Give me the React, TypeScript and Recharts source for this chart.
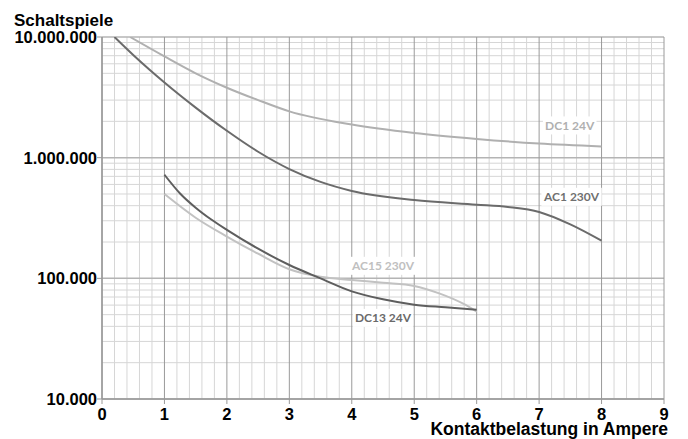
import { LineChart, Line, XAxis, YAxis, ReferenceDot, ReferenceLine, Label } from "recharts";

// Schaltspiele vs. Kontaktbelastung (A), log y axis
const xTicks = [0, 1, 2, 3, 4, 5, 6, 7, 8, 9];
const yTicks = [10000, 100000, 1000000, 10000000];
const xMinor = [
  0.2, 0.4, 0.6, 0.8, 1.2, 1.4, 1.6, 1.8, 2.2, 2.4, 2.6, 2.8, 3.2, 3.4, 3.6, 3.8,
  4.2, 4.4, 4.6, 4.8, 5.2, 5.4, 5.6, 5.8, 6.2, 6.4, 6.6, 6.8, 7.2, 7.4, 7.6, 7.8,
  8.2, 8.4, 8.6, 8.8,
];
const yMinor = [
  20000, 30000, 40000, 50000, 60000, 70000, 80000, 90000,
  200000, 300000, 400000, 500000, 600000, 700000, 800000, 900000,
  2000000, 3000000, 4000000, 5000000, 6000000, 7000000, 8000000, 9000000,
];

const dc1 = [
  { x: 0.45, y: 10000000 }, { x: 1, y: 6900000 }, { x: 1.5, y: 5000000 }, { x: 2, y: 3800000 },
  { x: 2.5, y: 3000000 }, { x: 3, y: 2420000 }, { x: 4, y: 1880000 }, { x: 5, y: 1600000 },
  { x: 6, y: 1430000 }, { x: 7, y: 1310000 }, { x: 8, y: 1240000 },
];
const ac1 = [
  { x: 0.2, y: 10000000 }, { x: 0.5, y: 7100000 }, { x: 1, y: 4200000 }, { x: 1.5, y: 2600000 },
  { x: 2, y: 1670000 }, { x: 2.5, y: 1120000 }, { x: 3, y: 805000 }, { x: 3.5, y: 630000 },
  { x: 4, y: 530000 }, { x: 5, y: 445000 }, { x: 6, y: 408000 }, { x: 6.5, y: 390000 },
  { x: 7, y: 355000 }, { x: 7.5, y: 280000 }, { x: 8, y: 205000 },
];
const dc13 = [
  { x: 1, y: 722000 }, { x: 1.25, y: 505000 }, { x: 1.5, y: 385000 }, { x: 1.75, y: 307000 },
  { x: 2, y: 252000 }, { x: 2.5, y: 176000 }, { x: 3, y: 129000 }, { x: 3.5, y: 100000 },
  { x: 4, y: 78000 }, { x: 4.5, y: 67000 }, { x: 5, y: 60500 }, { x: 5.5, y: 57500 },
  { x: 6, y: 54800 },
];
const ac15 = [
  { x: 1, y: 500000 }, { x: 1.5, y: 318000 }, { x: 2, y: 222000 }, { x: 2.5, y: 160000 },
  { x: 3, y: 119000 }, { x: 3.5, y: 103000 }, { x: 4, y: 97000 }, { x: 4.5, y: 92000 },
  { x: 5, y: 86500 }, { x: 5.4, y: 75000 }, { x: 5.8, y: 61000 }, { x: 6, y: 53000 },
];

const curveLabels = [
  { text: "DC1 24V", x: 7.49, y: 1850000, color: "#b0b0b0" },
  { text: "AC1 230V", x: 7.52, y: 474000, color: "#707070" },
  { text: "AC15 230V", x: 4.5, y: 127000, color: "#c0c0c0" },
  { text: "DC13 24V", x: 4.5, y: 47000, color: "#6a6a6a" },
];

const fmtDe = (v: number) => String(v).replace(/\B(?=(\d{3})+(?!\d))/g, ".");
const tickFont = { fill: "#000", fontSize: 16.5, fontWeight: 700, fontFamily: "'Liberation Sans', Arial, sans-serif" };

const tagShape = (text: string, color: string) => (p: any) => {
  const w = text.length * 6.8 + 6;
  return (
    <g>
      <rect x={p.cx - w / 2} y={p.cy - 9} width={w} height={18} fill="#fff" />
      <text x={p.cx} y={p.cy} textAnchor="middle" dominantBaseline="central"
        style={{ fontFamily: "Lato, 'Open Sans', sans-serif", fontWeight: 700, fontSize: 12, fill: color }}>
        {text}
      </text>
    </g>
  );
};

export default function App() {
  return (
    <div style={{ width: 688, height: 439, background: "#fff" }}>
      <style>{"body{margin:0}"}</style>
      <LineChart width={688} height={439} margin={{ top: 37, right: 24, bottom: 0, left: 0 }}>
        {yMinor.map(v => (
          <ReferenceLine key={"hm" + v} y={v} stroke="#d6d6d6" strokeWidth={1} />
        ))}
        {xMinor.map(v => (
          <ReferenceLine key={"vm" + v} x={v} stroke="#d6d6d6" strokeWidth={1} />
        ))}
        {yTicks.map(v => (
          <ReferenceLine key={"h" + v} y={v} stroke="#b4b4b4" strokeWidth={1.5} ifOverflow="visible" />
        ))}
        {xTicks.map(v => (
          <ReferenceLine key={"v" + v} x={v} stroke="#9a9a9a" strokeWidth={1} ifOverflow="visible" />
        ))}
        <XAxis type="number" dataKey="x" domain={[0, 9]} ticks={xTicks} allowDataOverflow
          tick={tickFont} tickSize={5} tickMargin={4} height={40}
          axisLine={{ stroke: "#999", strokeWidth: 1.5 }} tickLine={{ stroke: "#999" }}>
          <Label content={(p: any) => (
            <text x={p.viewBox.x + p.viewBox.width + 4} y={p.viewBox.y + 36} textAnchor="end"
              style={{ fontFamily: "'Liberation Sans', Arial, sans-serif", fontWeight: 700, fontSize: 17.5, fill: "#000" }}>
              Kontaktbelastung in Ampere
            </text>
          )} />
        </XAxis>
        <YAxis type="number" dataKey="y" scale="log" domain={[10000, 10000000]} ticks={yTicks} allowDataOverflow
          tickFormatter={fmtDe} tick={tickFont} tickSize={5} tickMargin={0} width={102}
          axisLine={{ stroke: "#999", strokeWidth: 1.5 }} tickLine={{ stroke: "#999" }}>
          <Label content={(p: any) => (
            <text x={p.viewBox.x + 14} y={p.viewBox.y - 11}
              style={{ fontFamily: "'Liberation Sans', Arial, sans-serif", fontWeight: 700, fontSize: 17, fill: "#000" }}>
              Schaltspiele
            </text>
          )} />
        </YAxis>
        <Line data={dc1} dataKey="y" type="monotone" stroke="#b0b0b0" strokeWidth={2} dot={false} isAnimationActive={false} />
        <Line data={ac1} dataKey="y" type="monotone" stroke="#6b6b6b" strokeWidth={2} dot={false} isAnimationActive={false} />
        <Line data={ac15} dataKey="y" type="monotone" stroke="#c2c2c2" strokeWidth={2} dot={false} isAnimationActive={false} />
        <Line data={dc13} dataKey="y" type="monotone" stroke="#5e5e5e" strokeWidth={2} dot={false} isAnimationActive={false} />
        {curveLabels.map(l => (
          <ReferenceDot key={l.text} x={l.x} y={l.y} r={0} shape={tagShape(l.text, l.color)} />
        ))}
      </LineChart>
    </div>
  );
}
